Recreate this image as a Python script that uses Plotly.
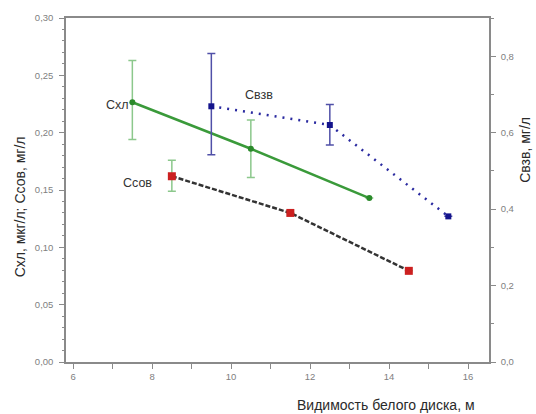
import plotly.graph_objects as go

# Data
x_chl = [7.5, 10.5, 13.5]
y_chl = [0.2265, 0.186, 0.143]
err_chl_plus = [0.0365, 0.025, 0.0]
err_chl_minus = [0.0325, 0.025, 0.0]

x_sov = [8.5, 11.5, 14.5]
y_sov = [0.162, 0.130, 0.0795]
err_sov_plus = [0.014, 0.0, 0.0]
err_sov_minus = [0.013, 0.0, 0.0]

x_vzv = [9.5, 12.5, 15.5]
y_vzv = [0.669, 0.620, 0.381]
err_vzv_plus = [0.138, 0.054, 0.0]
err_vzv_minus = [0.127, 0.052, 0.0]

left_ticks = [0.0, 0.05, 0.10, 0.15, 0.20, 0.25, 0.30]
right_ticks = [0.0, 0.2, 0.4, 0.6, 0.8]
x_ticks = [6, 8, 10, 12, 14, 16]

fig = go.Figure()

fig.add_trace(go.Scatter(
    x=x_chl, y=y_chl, mode="lines+markers",
    line=dict(color="#3a9a3a", width=2.5),
    marker=dict(color="#2a8a2a", size=6, symbol="circle"),
    error_y=dict(type="data", symmetric=False, array=err_chl_plus, arrayminus=err_chl_minus,
                 color="#8cc88c", thickness=1.5, width=4),
    showlegend=False))

fig.add_trace(go.Scatter(
    x=x_sov, y=y_sov, mode="lines+markers",
    line=dict(color="#333333", width=2.5, dash="5px,2px"),
    marker=dict(color="#cc2020", size=8, symbol="square"),
    error_y=dict(type="data", symmetric=False, array=err_sov_plus, arrayminus=err_sov_minus,
                 color="#8cc88c", thickness=1.5, width=4),
    showlegend=False))

fig.add_trace(go.Scatter(
    x=x_vzv, y=y_vzv, mode="lines+markers", yaxis="y2",
    line=dict(color="#2a2aa0", width=2.5, dash="2px,6px"),
    marker=dict(color="#14148c", size=6, symbol="square"),
    error_y=dict(type="data", symmetric=False, array=err_vzv_plus, arrayminus=err_vzv_minus,
                 color="#5050a8", thickness=1.5, width=4),
    showlegend=False))

tickfont = dict(family="Liberation Sans, Arial", size=9.5, color="#808080")
axcol = "#8a8a8a"

fig.update_layout(
    width=536, height=414,
    margin=dict(l=66, r=47, t=15, b=52),
    paper_bgcolor="white", plot_bgcolor="white",
    separators=", ",
    xaxis=dict(range=[5.82, 16.53], tickvals=x_ticks, ticktext=[str(v) for v in x_ticks],
               showgrid=False, zeroline=False, showline=True, linecolor=axcol, linewidth=1.5,
               mirror=True, ticks="outside", ticklen=5, tickcolor=axcol, tickfont=tickfont,
               minor=dict(dtick=1, tick0=6, ticks="outside", ticklen=5, tickcolor=axcol)),
    yaxis=dict(range=[0, 0.30], tickvals=left_ticks,
               ticktext=[f"{v:.2f}".replace(".", ",") for v in left_ticks],
               showgrid=False, zeroline=False, showline=True, linecolor=axcol, linewidth=1.5,
               ticks="outside", ticklen=5, tickcolor=axcol, tickfont=tickfont,
               ticklabelstandoff=4,
               minor=dict(dtick=0.01, tick0=0, ticks="outside", ticklen=2, tickcolor=axcol)),
    yaxis2=dict(range=[0, 0.9], overlaying="y", side="right", tickvals=right_ticks,
                ticktext=[f"{v:.1f}".replace(".", ",") for v in right_ticks],
                showgrid=False, zeroline=False, showline=True, linecolor=axcol, linewidth=1.5,
                ticks="outside", ticklen=5, tickcolor=axcol, tickfont=tickfont,
                ticklabelstandoff=3,
                minor=dict(dtick=0.1, tick0=0, ticks="outside", ticklen=3, tickcolor=axcol)),
)

labfont = dict(family="Liberation Sans, Arial", size=12.5, color="#333333")
fig.add_annotation(x=7.12, y=0.224, xref="x", yref="y", text="Схл", showarrow=False, font=labfont)
fig.add_annotation(x=7.63, y=0.156, xref="x", yref="y", text="Ссов", showarrow=False, font=labfont)
fig.add_annotation(x=10.71, y=0.2326, xref="x", yref="y", text="Свзв", showarrow=False, font=labfont)

titlefont = dict(family="Liberation Sans, Arial", size=14, color="#2a2a2a")

# Axis titles placed in paper coordinates (plot area: x 66..489, y 15..362)
pw, ph = 489 - 66, 362 - 15
def px(xp):
    return (xp - 66) / pw
def py(yp):
    return (362 - yp) / ph

fig.add_annotation(x=px(386), y=py(405), xref="paper", yref="paper", xanchor="center", yanchor="middle",
                   text="Видимость белого диска, м", showarrow=False, font=titlefont)
fig.add_annotation(x=px(20), y=py(206), xref="paper", yref="paper", xanchor="center", yanchor="middle",
                   text="Схл, мкг/л; Ссов, мг/л", textangle=-90, showarrow=False, font=titlefont)
fig.add_annotation(x=px(525), y=py(148), xref="paper", yref="paper", xanchor="center", yanchor="middle",
                   text="Свзв, мг/л", textangle=-90, showarrow=False, font=titlefont)

fig.write_html("out.html", config={"displayModeBar": False},
               post_script="document.body.style.margin='0';")
